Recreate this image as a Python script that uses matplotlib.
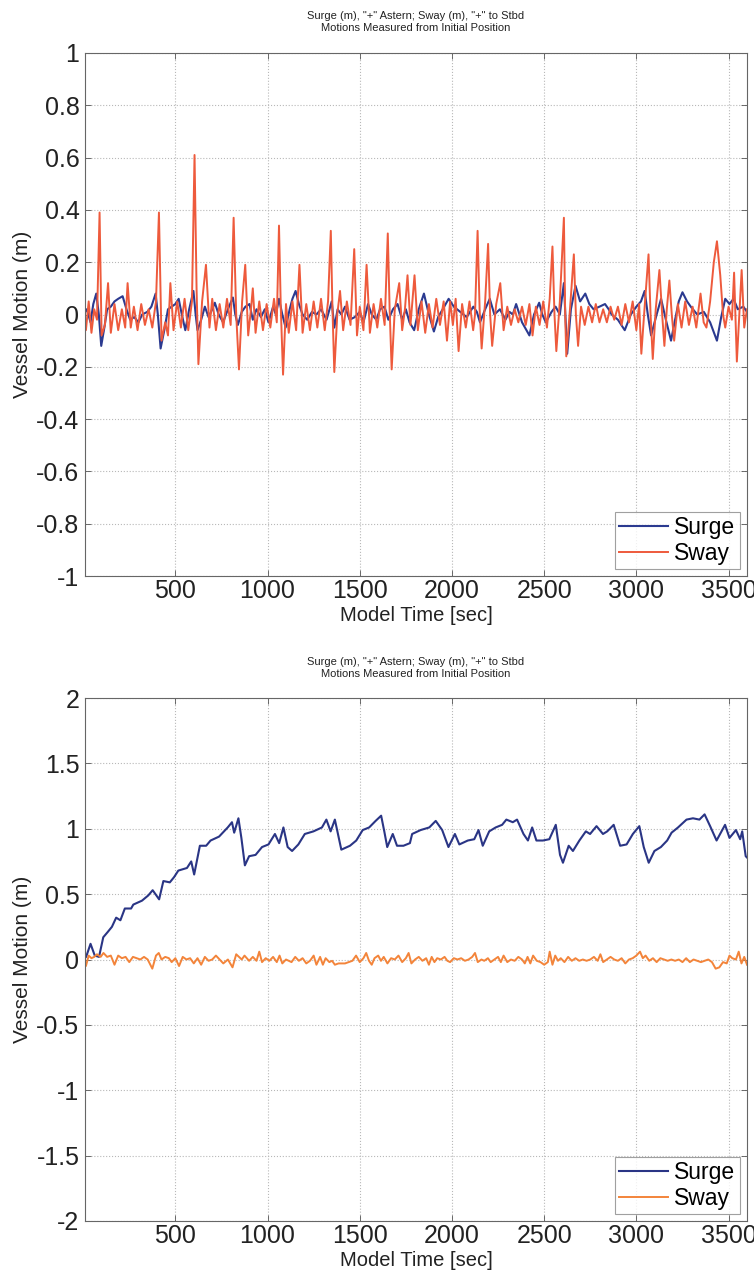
import matplotlib
matplotlib.use("Agg")
import matplotlib.pyplot as plt

plt.rcParams['font.family'] = ['Liberation Sans', 'DejaVu Sans']

# ---------------- data: top panel ----------------
t_sway_top = [0, 15, 30, 45, 60, 75, 89, 100, 118, 135, 150, 170, 190, 210, 228, 241, 258, 275, 295, 315,
              335, 355, 375, 395, 411, 425, 445, 460, 473, 490, 510, 530, 550, 570, 590, 604, 615, 625, 645, 666,
              685, 700, 720, 740, 760, 780, 800, 816, 830, 845, 862, 879, 895, 910, 920, 935, 955, 975, 995, 1015,
              1035, 1050, 1062, 1072, 1084, 1100, 1115, 1135, 1155, 1173, 1190, 1210, 1230, 1250, 1270, 1290, 1310, 1328, 1343, 1352,
              1362, 1378, 1393, 1410, 1430, 1450, 1470, 1485, 1500, 1520, 1537, 1555, 1575, 1595, 1615, 1635, 1652, 1662, 1673, 1690,
              1714, 1730, 1745, 1759, 1775, 1797, 1815, 1835, 1855, 1875, 1895, 1915, 1935, 1955, 1973, 1990, 2005, 2020, 2036, 2055,
              2075, 2095, 2115, 2125, 2139, 2150, 2161, 2180, 2196, 2207, 2218, 2240, 2262, 2280, 2300, 2320, 2340, 2360, 2380, 2400,
              2420, 2437, 2455, 2475, 2495, 2515, 2530, 2545, 2556, 2566, 2585, 2607, 2614, 2620, 2640, 2661, 2672, 2684, 2700, 2720,
              2740, 2760, 2780, 2800, 2820, 2840, 2860, 2880, 2900, 2920, 2940, 2960, 2980, 3000, 3015, 3027, 3045, 3066, 3077, 3089,
              3105, 3125, 3140, 3152, 3165, 3179, 3192, 3205, 3225, 3245, 3265, 3285, 3305, 3325, 3348, 3365, 3380, 3400, 3420, 3437,
              3455, 3470, 3482, 3500, 3518, 3530, 3545, 3560, 3571, 3585, 3600]
sway_top = [0.0, -0.06, 0.05, -0.07, 0.02, -0.02, 0.39, -0.08, -0.04, 0.12, -0.07, 0.04, -0.06, 0.02, -0.05, 0.12, -0.05, 0.03, -0.06, 0.04,
            -0.04, 0.02, -0.05, 0.05, 0.39, -0.10, -0.03, -0.08, 0.12, -0.06, 0.05, -0.05, 0.06, -0.06, 0.05, 0.61, 0.10, -0.19, 0.05, 0.19,
            -0.05, 0.06, -0.06, 0.04, -0.05, 0.06, -0.04, 0.37, 0.0, -0.21, 0.05, 0.19, -0.08, 0.02, 0.10, -0.07, 0.05, -0.06, 0.04, -0.05,
            0.06, -0.03, 0.34, 0.02, -0.23, 0.04, -0.07, 0.05, -0.06, 0.19, -0.07, 0.04, -0.06, 0.05, -0.05, 0.06, -0.06, 0.05, 0.32, 0.02,
            -0.22, 0.0, 0.09, -0.06, 0.05, -0.04, 0.25, -0.08, 0.03, -0.06, 0.19, -0.07, 0.04, -0.05, 0.06, -0.04, 0.31, 0.02, -0.21, 0.02,
            0.12, -0.06, 0.02, 0.15, -0.04, 0.15, -0.06, 0.05, -0.07, 0.04, -0.05, 0.06, -0.04, 0.05, -0.10, 0.05, -0.04, 0.06, -0.14, 0.04,
            -0.05, 0.05, -0.06, 0.0, 0.32, 0.02, -0.13, 0.05, 0.27, 0.0, -0.12, 0.04, 0.12, -0.06, 0.03, -0.04, 0.02, -0.03, 0.03, -0.04,
            0.04, -0.08, 0.03, -0.04, 0.05, -0.05, 0.06, 0.26, 0.0, -0.14, 0.05, 0.37, 0.0, -0.16, 0.02, 0.23, 0.0, -0.12, 0.03, -0.04,
            0.03, -0.03, 0.04, -0.03, 0.02, -0.03, 0.03, -0.02, 0.03, -0.04, 0.04, -0.03, 0.05, -0.06, 0.04, -0.15, 0.03, 0.23, 0.0, -0.17,
            0.02, 0.17, 0.0, -0.12, 0.02, 0.13, 0.0, -0.10, 0.04, -0.05, 0.05, -0.04, 0.03, -0.05, 0.08, -0.03, -0.05, 0.05, 0.20, 0.28,
            0.15, 0.0, -0.05, 0.03, -0.02, 0.16, -0.18, 0.02, 0.17, -0.05, 0.02]

t_surge_top = [0, 20, 40, 55, 71, 85, 98, 115, 130, 150, 170, 190, 214, 235, 255, 277, 300, 320, 348, 370,
               393, 405, 420, 440, 460, 480, 500, 518, 535, 554, 575, 598, 610, 620, 640, 660, 680, 700, 714, 735,
               759, 785, 812, 825, 839, 860, 880, 902, 920, 940, 964, 985, 1005, 1030, 1045, 1062, 1080, 1098, 1120, 1135,
               1152, 1170, 1190, 1215, 1241, 1265, 1290, 1320, 1348, 1362, 1380, 1400, 1420, 1445, 1473, 1500, 1520, 1545, 1565, 1590,
               1610, 1634, 1655, 1680, 1705, 1730, 1750, 1770, 1795, 1820, 1848, 1875, 1902, 1925, 1950, 1982, 2010, 2045, 2080, 2116,
               2135, 2152, 2180, 2205, 2230, 2260, 2290, 2312, 2330, 2348, 2380, 2420, 2445, 2473, 2490, 2509, 2540, 2562, 2585, 2607,
               2625, 2645, 2670, 2695, 2723, 2745, 2768, 2800, 2830, 2850, 2866, 2900, 2937, 2970, 3000, 3025, 3045, 3062, 3080, 3110,
               3134, 3160, 3188, 3210, 3230, 3250, 3275, 3295, 3330, 3366, 3400, 3437, 3460, 3482, 3505, 3527, 3550, 3580, 3600]
surge_top = [0.0, 0.02, -0.03, 0.04, 0.08, 0.0, -0.12, -0.05, 0.02, 0.03, 0.05, 0.06, 0.07, 0.02, -0.02, -0.01, -0.03, 0.0, 0.01, 0.03,
             0.08, 0.0, -0.13, -0.06, 0.02, 0.03, 0.04, 0.06, 0.0, -0.06, 0.02, 0.09, 0.0, -0.06, -0.02, 0.03, -0.01, 0.02, 0.045, 0.0,
             -0.03, 0.02, 0.065, 0.0, -0.04, 0.01, 0.03, 0.04, -0.02, 0.02, -0.01, 0.02, -0.03, 0.03, 0.0, 0.06, 0.0, -0.05, 0.02, 0.06,
             0.09, 0.04, 0.0, -0.02, 0.01, 0.0, 0.02, -0.02, 0.05, -0.05, 0.02, 0.0, 0.03, -0.02, -0.01, 0.01, -0.03, 0.04, 0.0, -0.02,
             0.02, 0.03, -0.02, 0.02, 0.04, -0.02, 0.02, -0.03, -0.06, 0.02, 0.08, 0.0, -0.065, -0.01, 0.02, 0.06, 0.03, 0.01, -0.01, 0.03,
             0.01, -0.03, 0.02, 0.06, 0.0, 0.02, -0.02, 0.01, 0.0, 0.04, -0.03, -0.08, 0.0, 0.045, 0.0, -0.03, 0.01, 0.03, 0.0, 0.12,
             -0.15, 0.02, 0.11, 0.05, 0.08, 0.04, 0.02, 0.03, 0.04, 0.02, 0.0, -0.02, -0.06, 0.0, 0.03, 0.05, 0.09, 0.0, -0.08, 0.0,
             0.06, -0.02, -0.10, -0.02, 0.05, 0.085, 0.05, 0.03, 0.0, 0.01, -0.03, -0.10, -0.01, 0.06, 0.04, 0.06, 0.02, 0.03, 0.01]

# ---------------- data: bottom panel ----------------
t_surge_bot = [0, 16, 40, 63, 86, 109, 133, 156, 179, 202, 226, 260, 272, 319, 353, 377, 412, 435, 470, 493,
               516, 563, 586, 602, 633, 667, 691, 737, 784, 807, 819, 842, 858, 877, 900, 935, 970, 1005, 1040, 1063,
               1086, 1109, 1133, 1167, 1202, 1249, 1295, 1319, 1342, 1365, 1400, 1447, 1481, 1516, 1551, 1586, 1616, 1633, 1649, 1679,
               1702, 1737, 1772, 1784, 1830, 1877, 1912, 1947, 1981, 2016, 2040, 2086, 2121, 2144, 2167, 2202, 2237, 2272, 2295, 2330,
               2353, 2388, 2412, 2435, 2458, 2493, 2528, 2563, 2586, 2602, 2633, 2656, 2691, 2726, 2749, 2784, 2819, 2842, 2877, 2912,
               2947, 2981, 3016, 3040, 3067, 3098, 3133, 3167, 3191, 3226, 3272, 3307, 3342, 3370, 3400, 3435, 3481, 3505, 3540, 3563,
               3574, 3593, 3600]
surge_bot = [0.0, 0.02, 0.12, 0.03, 0.02, 0.17, 0.21, 0.25, 0.32, 0.30, 0.39, 0.39, 0.42, 0.45, 0.49, 0.53, 0.46, 0.60, 0.59, 0.63,
             0.68, 0.70, 0.75, 0.65, 0.87, 0.87, 0.91, 0.94, 1.01, 1.05, 0.97, 1.08, 0.93, 0.72, 0.79, 0.80, 0.86, 0.88, 0.96, 0.89,
             1.01, 0.86, 0.83, 0.88, 0.96, 0.98, 1.01, 1.07, 0.98, 1.07, 0.84, 0.87, 0.91, 0.99, 1.01, 1.06, 1.10, 0.98, 0.86, 0.96,
             0.87, 0.87, 0.89, 0.96, 0.99, 1.01, 1.06, 0.99, 0.86, 0.96, 0.88, 0.91, 0.92, 0.99, 0.87, 0.98, 1.01, 1.03, 1.07, 1.05,
             1.07, 0.96, 0.91, 1.01, 0.91, 0.91, 0.92, 1.03, 0.80, 0.74, 0.87, 0.83, 0.91, 0.98, 0.96, 1.02, 0.96, 0.98, 1.03, 0.87,
             0.88, 0.96, 1.02, 0.86, 0.74, 0.83, 0.86, 0.91, 0.97, 1.01, 1.07, 1.08, 1.07, 1.11, 1.02, 0.91, 1.03, 0.93, 0.99, 0.92,
             0.98, 0.79, 0.78]

t_sway_bot = [0, 15, 30, 45, 60, 75, 95, 110, 130, 150, 170, 190, 210, 230, 250, 270, 290, 310, 330, 350,
              375, 395, 410, 425, 445, 465, 480, 500, 520, 540, 560, 580, 600, 620, 640, 660, 680, 700, 720, 740,
              760, 785, 810, 830, 845, 860, 875, 900, 920, 940, 955, 970, 990, 1010, 1030, 1050, 1065, 1080, 1100, 1115,
              1130, 1150, 1170, 1190, 1210, 1230, 1250, 1265, 1285, 1300, 1315, 1335, 1350, 1365, 1385, 1400, 1420, 1440, 1460, 1480,
              1500, 1520, 1535, 1550, 1565, 1580, 1600, 1615, 1630, 1650, 1670, 1690, 1710, 1730, 1750, 1765, 1780, 1800, 1820, 1840,
              1860, 1875, 1890, 1905, 1920, 1940, 1960, 1975, 1990, 2010, 2030, 2050, 2070, 2090, 2110, 2125, 2140, 2160, 2175, 2195,
              2210, 2230, 2250, 2265, 2280, 2300, 2320, 2340, 2360, 2380, 2395, 2410, 2425, 2440, 2460, 2480, 2500, 2520, 2530, 2545,
              2560, 2575, 2590, 2610, 2630, 2650, 2670, 2690, 2710, 2730, 2750, 2770, 2790, 2805, 2820, 2840, 2860, 2880, 2900, 2920,
              2940, 2960, 2980, 3000, 3020, 3035, 3050, 3070, 3090, 3110, 3130, 3150, 3170, 3190, 3210, 3230, 3250, 3270, 3290, 3310,
              3330, 3350, 3370, 3390, 3410, 3430, 3450, 3470, 3490, 3505, 3520, 3540, 3555, 3570, 3585, 3600]
sway_bot = [0.0, -0.05, 0.03, 0.01, 0.02, 0.04, 0.02, 0.05, 0.02, 0.03, -0.04, 0.03, 0.01, 0.02, -0.02, 0.02, 0.01, 0.0, 0.02, 0.0,
            -0.07, 0.03, 0.05, 0.0, 0.02, 0.01, -0.02, 0.01, -0.05, 0.02, 0.0, 0.01, -0.03, 0.01, -0.04, 0.02, -0.01, 0.0, 0.03, 0.0,
            -0.03, 0.0, -0.06, 0.04, 0.02, 0.0, 0.03, -0.01, 0.02, -0.01, 0.06, -0.02, 0.01, -0.01, 0.02, -0.02, 0.03, -0.03, 0.0, -0.01,
            -0.02, 0.02, -0.01, 0.01, -0.03, -0.01, 0.03, -0.04, 0.02, -0.04, 0.01, -0.02, -0.01, -0.04, -0.03, -0.03, -0.03, -0.02, -0.01, 0.03,
            -0.02, 0.01, 0.05, -0.01, -0.04, 0.01, 0.03, -0.01, 0.02, -0.03, 0.01, 0.0, 0.03, -0.02, 0.01, 0.05, -0.03, 0.0, 0.02, -0.01,
            0.01, -0.04, 0.02, -0.02, 0.01, 0.0, 0.02, -0.01, -0.02, 0.01, 0.0, 0.01, -0.01, 0.0, 0.02, 0.05, -0.02, 0.0, -0.01, 0.01,
            -0.02, 0.0, 0.02, -0.02, 0.03, -0.02, 0.0, -0.01, 0.02, 0.0, -0.03, 0.02, -0.03, 0.03, -0.01, -0.02, -0.04, -0.02, 0.06, -0.04,
            0.03, -0.01, 0.01, -0.02, 0.02, -0.01, 0.01, -0.01, 0.0, -0.01, 0.0, 0.02, -0.01, 0.04, -0.02, 0.0, 0.02, 0.0, -0.01, 0.01,
            -0.03, 0.0, 0.01, 0.03, 0.06, 0.01, 0.03, -0.01, 0.01, -0.02, 0.01, 0.0, -0.01, 0.0, -0.01, 0.0, -0.02, 0.01, -0.02, 0.0,
            -0.01, -0.02, -0.01, 0.0, -0.02, -0.07, -0.06, -0.02, -0.03, 0.03, 0.01, 0.0, 0.06, -0.03, 0.02, -0.04]

title_lines = 'Surge (m), "+" Astern; Sway (m), "+" to Stbd\nMotions Measured from Initial Position'
x_ticks = [500, 1000, 1500, 2000, 2500, 3000, 3500]
y_ticks_top = [-1, -0.8, -0.6, -0.4, -0.2, 0, 0.2, 0.4, 0.6, 0.8, 1]
y_ticks_bot = [-2, -1.5, -1, -0.5, 0, 0.5, 1, 1.5, 2]

W, H = 754, 1279
fig = plt.figure(figsize=(W / 100, H / 100), dpi=100)


def style(ax, yticks, ylim):
    ax.set_xlim(10, 3600)
    ax.set_ylim(*ylim)
    ax.set_xticks(x_ticks)
    ax.set_xticklabels([str(x) for x in x_ticks])
    ax.set_yticks(yticks)
    ax.set_yticklabels(['%g' % v for v in yticks])
    ax.tick_params(direction='in', top=True, right=True, length=4, width=0.6,
                   color='#555555', labelsize=18, labelcolor='#222222')
    ax.tick_params(axis='x', pad=2.5)
    ax.tick_params(axis='y', pad=4)
    ax.grid(True, linestyle=':', color='#b8b8b8', linewidth=0.8)
    for s in ax.spines.values():
        s.set_color('#666666')
        s.set_linewidth(0.8)
    ax.set_ylabel('Vessel Motion (m)', fontsize=15, color='#222222', labelpad=3)
    ax.set_xlabel('Model Time [sec]', fontsize=14.5, color='#222222', labelpad=1.5)


def add_legend(ax):
    leg = ax.legend(loc='lower right', fontsize=16.5, frameon=True, fancybox=False,
                    edgecolor='#888888', borderaxespad=0.3, handlelength=2.1,
                    handletextpad=0.3, borderpad=0.2, labelspacing=0.1)
    leg.get_frame().set_linewidth(0.8)


# top axes
ax1 = fig.add_axes([85 / W, 1 - 576 / H, 662 / W, 523 / H])
ax1.plot(t_surge_top, surge_top, color='#2b3a90', lw=1.5, label='Surge')
ax1.plot(t_sway_top, sway_top, color='#ee5a3c', lw=1.4, label='Sway')
style(ax1, y_ticks_top, (-1, 1))
add_legend(ax1)
fig.text(0.5 * (85 + 747) / W, 1 - 22 / H, title_lines, ha='center', va='center',
         fontsize=8, color='#222222', linespacing=1.25)

# bottom axes
ax2 = fig.add_axes([85 / W, 1 - 1221 / H, 662 / W, 523 / H])
ax2.plot(t_surge_bot, surge_bot, color='#2a3585', lw=1.5, label='Surge')
ax2.plot(t_sway_bot, sway_bot, color='#f3843a', lw=1.4, label='Sway')
style(ax2, y_ticks_bot, (-2, 2))
add_legend(ax2)
fig.text(0.5 * (85 + 747) / W, 1 - 668 / H, title_lines, ha='center', va='center',
         fontsize=8, color='#222222', linespacing=1.25)

fig.savefig('out.png', dpi=100)
